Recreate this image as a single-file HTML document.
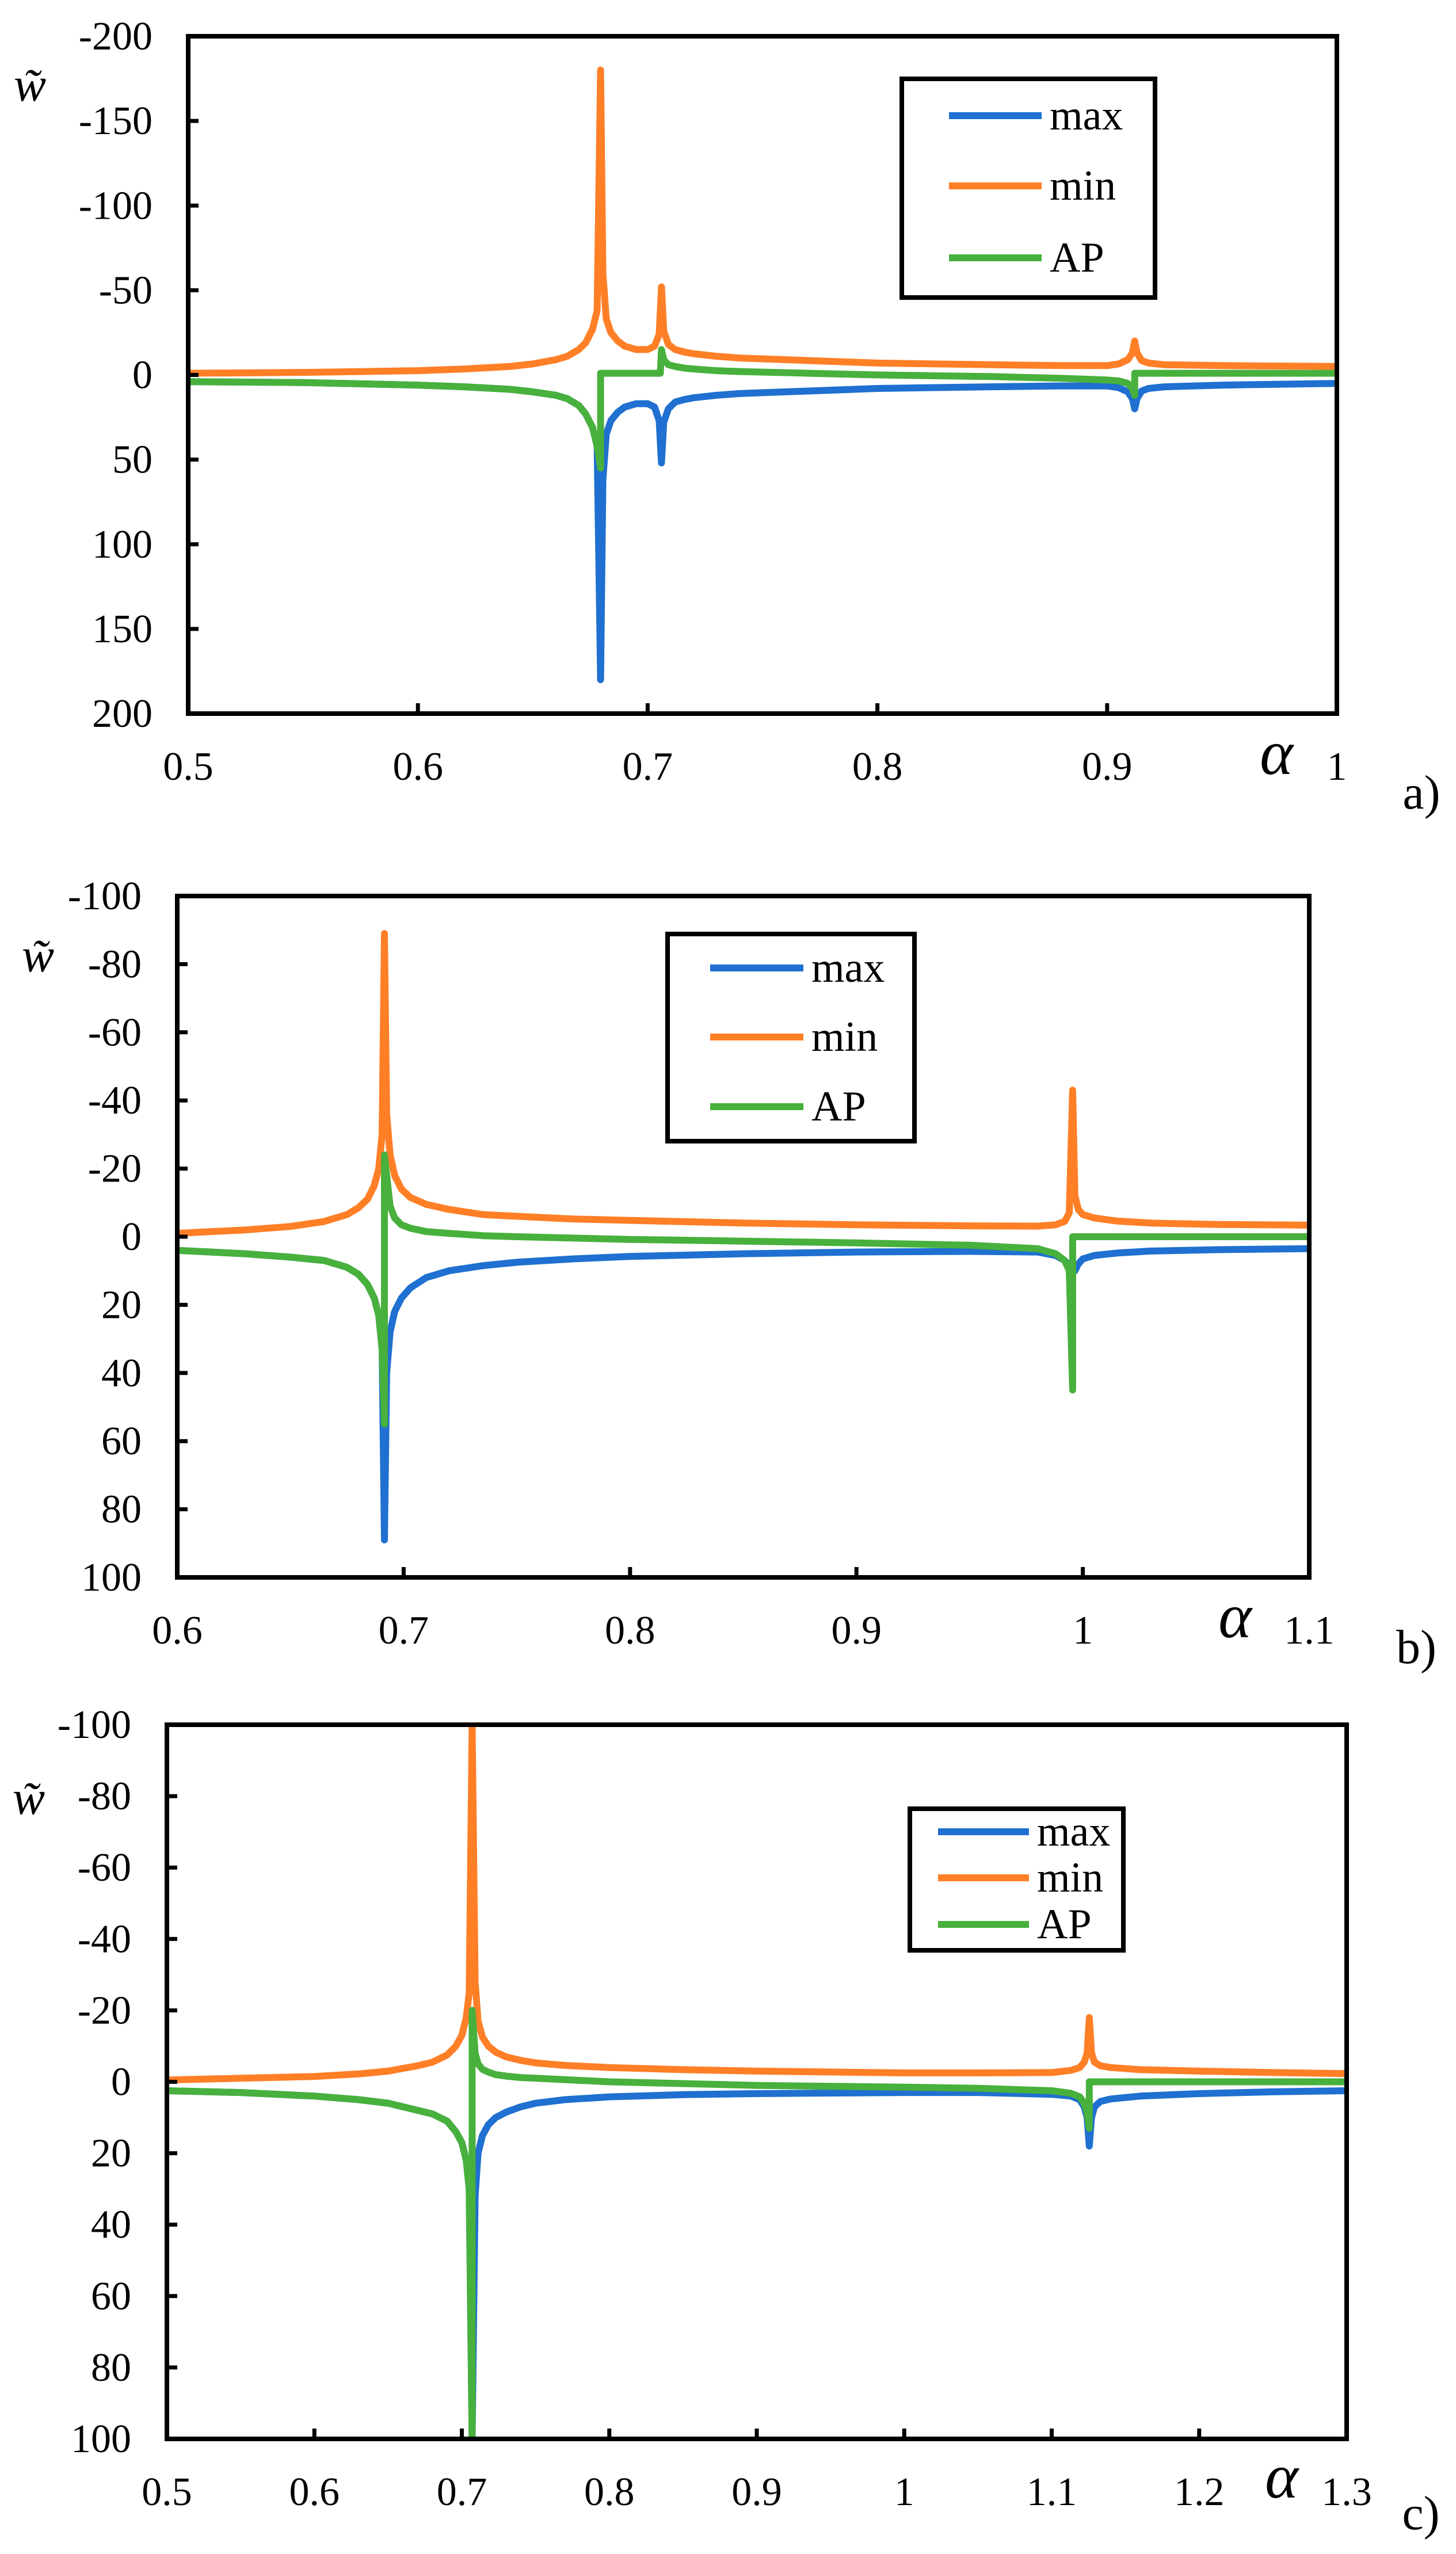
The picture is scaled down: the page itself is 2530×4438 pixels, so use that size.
<!DOCTYPE html>
<html><head><meta charset="utf-8"><style>
html,body{margin:0;padding:0;background:#fff}
svg{display:block}
text{font-family:"Liberation Serif",serif;fill:#000}
</style></head><body>
<svg id="fig" width="2530" height="4438" viewBox="0 0 2530 4438" xmlns="http://www.w3.org/2000/svg"></svg>
<script>
// ---------- Chart a data ----------
const aXTicks = [0.5,0.6,0.7,0.8,0.9,1];
const aXLabels = ["0.5","0.6","0.7","0.8","0.9","1"];
const aYTicks = [-200,-150,-100,-50,0,50,100,150,200];
const aYLabels = ["-200","-150","-100","-50","0","50","100","150","200"];
const aMinX = [0.5,0.55,0.6,0.62,0.64,0.65,0.66,0.665,0.67,0.673,0.676,0.678,0.6795,0.6805,0.682,0.684,0.687,0.69,0.695,0.70,0.703,0.705,0.706,0.707,0.709,0.712,0.716,0.72,0.73,0.74,0.76,0.78,0.8,0.85,0.88,0.9,0.905,0.909,0.911,0.912,0.913,0.915,0.918,0.925,0.95,1.0];
const aMinY = [-1,-1.5,-2.5,-3.5,-5,-6.5,-9,-11,-15,-19,-27,-38,-180,-60,-33,-25,-20,-17,-15,-15,-17,-24,-52,-26,-18,-15,-13.5,-12.5,-11,-10,-9,-8,-7,-6,-5.5,-5.5,-6.5,-9,-13,-20,-13,-8.5,-7,-6,-5.5,-5];
const aMaxX = aMinX;
const aMaxY = [4,4.5,6,7,8.5,10,12,14,18,23,31,42,180,62,35,27,22,19,17,17,19,27,52,28,20,16,14.5,13.5,12,11,10,9,8,7,6.5,6.5,7.5,10,14,20,14,9.5,8,7,6,5];
const aAPX = [0.5,0.55,0.6,0.62,0.64,0.65,0.66,0.665,0.67,0.673,0.676,0.678,0.6795,0.6795,0.685,0.70,0.705,0.7055,0.706,0.707,0.709,0.712,0.716,0.72,0.73,0.74,0.77,0.8,0.85,0.88,0.9,0.905,0.909,0.911,0.912,0.912,1.0];
const aAPY = [4,4.5,6,7,8.5,10,12,14,18,23,31,42,55,-1,-1,-1,-1,-1,-15,-9,-6,-5,-4,-3.5,-2.5,-2,-1,0,1,2,3,3.5,5,8,12,-1,-1];

// ---------- Chart b data ----------
const bXTicks = [0.6,0.7,0.8,0.9,1,1.1];
const bXLabels = ["0.6","0.7","0.8","0.9","1","1.1"];
const bYTicks = [-100,-80,-60,-40,-20,0,20,40,60,80,100];
const bYLabels = ["-100","-80","-60","-40","-20","0","20","40","60","80","100"];
const bMinX = [0.6,0.63,0.65,0.665,0.675,0.68,0.684,0.687,0.689,0.6905,0.6915,0.6925,0.694,0.696,0.699,0.703,0.71,0.72,0.735,0.75,0.775,0.8,0.85,0.9,0.95,0.98,0.988,0.992,0.994,0.9955,0.9965,0.998,1.0,1.005,1.015,1.03,1.06,1.1];
const bMinY = [-1,-2,-3,-4.5,-6.5,-8.5,-11,-15,-20,-30,-89,-36,-24,-18,-14,-11.5,-9.5,-8,-6.5,-6,-5.2,-4.8,-4,-3.5,-3.2,-3.1,-3.5,-4.5,-7,-43,-12,-8,-6.5,-5.5,-4.6,-4,-3.6,-3.4];
const bMaxX = bMinX;
const bMaxY = [4,5,6,7,9,11,14,18,23,33,89,40,28,22,18,15,12,10,8.5,7.5,6.5,5.8,5,4.5,4.3,4.5,5.5,7,8.5,10,10,8,6.5,5.5,4.8,4.2,3.8,3.5];
const bAPX = [0.6,0.63,0.65,0.665,0.675,0.68,0.684,0.687,0.689,0.6905,0.6915,0.6915,0.694,0.696,0.699,0.703,0.71,0.72,0.735,0.75,0.8,0.85,0.9,0.95,0.98,0.988,0.992,0.994,0.9955,0.9955,1.1];
const bAPY = [4,5,6,7,9,11,14,18,23,33,55,-24,-9,-5.5,-3.5,-2.5,-1.5,-1,-0.3,0,0.8,1.3,1.8,2.5,3.5,5,7,10,45,0,0];

// ---------- Chart c data ----------
const cXTicks = [0.5,0.6,0.7,0.8,0.9,1,1.1,1.2,1.3];
const cXLabels = ["0.5","0.6","0.7","0.8","0.9","1","1.1","1.2","1.3"];
const cYTicks = [-100,-80,-60,-40,-20,0,20,40,60,80,100];
const cYLabels = ["-100","-80","-60","-40","-20","0","20","40","60","80","100"];
const cMinX = [0.5,0.55,0.6,0.63,0.65,0.67,0.68,0.69,0.696,0.70,0.703,0.705,0.707,0.709,0.711,0.714,0.718,0.723,0.73,0.74,0.75,0.77,0.8,0.85,0.9,1.0,1.05,1.1,1.113,1.119,1.122,1.124,1.1255,1.127,1.129,1.133,1.14,1.16,1.2,1.25,1.3];
const cMinY = [-0.5,-1,-1.5,-2.2,-3,-4.5,-5.5,-7.5,-10,-13,-18,-25,-100,-28,-17,-12.5,-10,-8.3,-7,-6,-5.3,-4.6,-4,-3.4,-3,-2.5,-2.5,-2.6,-3.2,-4,-5.5,-8,-18,-8,-5.5,-4.5,-4,-3.4,-3,-2.6,-2.3];
const cMaxX = cMinX;
const cMaxY = [2.5,3,4,5,6,8,9,11,14,17,22,30,100,32,20,15,12,10,8.5,7,6,5,4.2,3.6,3.3,3,3,3.5,4,5,7,10,18,10,7,5.5,4.8,4,3.3,2.8,2.5];
const cAPX = [0.5,0.55,0.6,0.63,0.65,0.67,0.68,0.69,0.696,0.70,0.703,0.705,0.707,0.707,0.709,0.711,0.714,0.718,0.723,0.73,0.74,0.75,0.8,0.9,1.0,1.05,1.1,1.113,1.119,1.122,1.124,1.1255,1.1255,1.3];
const cAPY = [2.5,3,4,5,6,8,9,11,14,17,22,30,100,-20,-8,-5,-3.5,-2.7,-2,-1.6,-1.2,-1,0,1,1.5,1.8,2.5,3.2,4.2,6,8.5,13,0,0];

const seriesNames = ["max","min","AP"];
const COL = {max:"#1f70d0", min:"#ff7f27", AP:"#48b03c"};
const NS = "http://www.w3.org/2000/svg";
const svg = document.getElementById("fig");

function el(tag, attrs, parent){
  const e = document.createElementNS(NS, tag);
  for (const k in attrs) e.setAttribute(k, attrs[k]);
  (parent||svg).appendChild(e);
  return e;
}

function drawChart(id, L, xMin, xMax, yMin, yMax, xT, xL, yT, yL, series){
  const g = el("g", {});
  
  
  const W = L.right - L.left, H = L.bottom - L.top;
  const sx = v => L.left + (v - xMin) / (xMax - xMin) * W;
  const sy = v => L.top + (v - yMin) / (yMax - yMin) * H;
  const cp = el("clipPath", {id:"clip-"+id}, g);
  el("rect", {x:L.left, y:L.top, width:W, height:H}, cp);
  const lg = el("g", {"clip-path":"url(#clip-"+id+")"}, g);
  series.forEach(s => {
    let d = "";
    s.x.forEach((xv,i) => { d += (i ? "L" : "M") + sx(xv).toFixed(1) + " " + sy(s.y[i]).toFixed(1); });
    const p = el("path", {d:d, fill:"none", stroke:COL[s.name], "stroke-width":12, "stroke-linejoin":"round", "stroke-linecap":"round"}, lg);
    
    
  });
  const fr = el("rect", {x:L.left, y:L.top, width:W, height:H, fill:"none", stroke:"#000", "stroke-width":8}, g);
  
  
  yT.forEach((v,i) => {
    const y = sy(v);
    const t = el("line", {x1:L.left, x2:L.left+18, y1:y, y2:y, stroke:"#000", "stroke-width":7}, g);
    
    
    const tx = el("text", {x:L.left-62, y:y+23, "font-size":70, "text-anchor":"end"}, g);
    tx.textContent = yL[i];
    
    
  });
  xT.forEach((v,i) => {
    const x = sx(v);
    const t = el("line", {x1:x, x2:x, y1:L.bottom, y2:L.bottom-18, stroke:"#000", "stroke-width":7}, g);
    
    
    const tx = el("text", {x:x, y:L.bottom+115, "font-size":70, "text-anchor":"middle"}, g);
    tx.textContent = xL[i];
    
    
  });
  const yt = el("text", {x:L.wx, y:L.wy, "font-size":84, "font-style":"italic", "text-anchor":"middle"}, g);
  yt.textContent = "w\u0303";
  
  
  const xt = el("text", {x:L.ax, y:L.ay, "font-size":110, "font-style":"italic", "text-anchor":"middle"}, g);
  xt.textContent = "\u03b1";
  
  
  const pl = el("text", {x:L.px, y:L.py, "font-size":84, "text-anchor":"middle"}, g);
  pl.textContent = id + ")";
  
  
  const lb = el("rect", {x:L.lgL, y:L.lgT, width:L.lgR-L.lgL, height:L.lgB-L.lgT, fill:"#fff", stroke:"#000", "stroke-width":8}, g);
  
  
  seriesNames.forEach((n,i) => {
    const y = L.lgY[i];
    const ln = el("line", {x1:L.lgX1, x2:L.lgX2, y1:y, y2:y, stroke:COL[n], "stroke-width":12}, g);
    
    
    const tx = el("text", {x:L.lgX2+14, y:y+24, "font-size":74}, g);
    tx.textContent = n;
    
    
  });
}

drawChart("a", {left:327,right:2323,top:63,bottom:1240,wx:52,wy:175,ax:2218,ay:1345,px:2470,py:1405,
  lgL:1567,lgR:2007,lgT:137,lgB:517,lgX1:1649,lgX2:1810,lgY:[201,323,448]},
  0.5,1,-200,200,aXTicks,aXLabels,aYTicks,aYLabels,
  [{name:"max",x:aMaxX,y:aMaxY},{name:"min",x:aMinX,y:aMinY},{name:"AP",x:aAPX,y:aAPY}]);

drawChart("b", {left:308,right:2275,top:1557,bottom:2741,wx:66,wy:1688,ax:2146,ay:2845,px:2461,py:2890,
  lgL:1160,lgR:1589,lgT:1623,lgB:1983,lgX1:1234,lgX2:1396,lgY:[1682,1802,1923]},
  0.6,1.1,-100,100,bXTicks,bXLabels,bYTicks,bYLabels,
  [{name:"max",x:bMaxX,y:bMaxY},{name:"min",x:bMinX,y:bMinY},{name:"AP",x:bAPX,y:bAPY}]);

drawChart("c", {left:290,right:2340,top:2997,bottom:4238,wx:50,wy:3152,ax:2227,ay:4340,px:2469,py:4395,
  lgL:1581,lgR:1952,lgT:3143,lgB:3389,lgX1:1630,lgX2:1788,lgY:[3183,3263,3344]},
  0.5,1.3,-100,100,cXTicks,cXLabels,cYTicks,cYLabels,
  [{name:"max",x:cMaxX,y:cMaxY},{name:"min",x:cMinX,y:cMinY},{name:"AP",x:cAPX,y:cAPY}]);
</script>
</body></html>
